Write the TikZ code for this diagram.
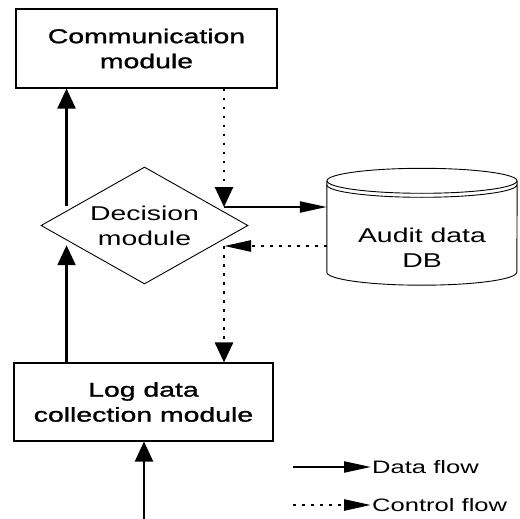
\documentclass[tikz,border=0pt]{standalone}
\usepackage{fontspec}
\setmainfont{Liberation Sans}[FakeStretch=1.42]
\newfontfamily\heavysans{Liberation Sans}[FakeStretch=1.42, FakeBold=1.3]
\usetikzlibrary{arrows.meta,shapes.geometric,calc}
\begin{document}
\begin{tikzpicture}[x=1pt,y=-1pt,
  box/.style={draw, line width=1.1pt, inner sep=0pt, font=\heavysans\fontsize{20}{25}\selectfont, align=center},
  lbl/.style={font=\fontsize{20}{25}\selectfont, align=center, inner sep=0pt},
  legendtext/.style={font=\fontsize{18}{22}\selectfont, anchor=west, inner sep=0pt},
  outline/.style={line width=0.9pt},
  dataflow/.style={line width=2.2pt},
  ctrlflow/.style={line width=2.6pt, dash pattern=on 2.6pt off 6.4pt},
  vtip/.style={-{Triangle[length=20pt,width=18pt]}},
  htip/.style={-{Triangle[length=27pt,width=11pt]}}]
\useasboundingbox (0,0) rectangle (520,519);

% modules
\node[box, minimum width=261pt, minimum height=79pt] (comm) at (146.5,48.5) {Communication\\module};
\node[box, minimum width=259pt, minimum height=78pt] (log) at (143.5,402) {Log data\\collection module};
\node[draw, outline, diamond, aspect=1.77, lbl, minimum width=207pt, minimum height=117pt] (dec) at (144.5,225.5) {Decision\\module};

% audit database cylinder
\node[minimum width=190pt, minimum height=91pt, inner sep=0pt] (db) at (422,226.5) {};
\draw[outline] (db.north west) -- (db.south west)
  arc[start angle=180, end angle=360, x radius=95pt, y radius=13pt] -- (db.north east);
\draw[outline] (db.north) ellipse[x radius=95pt, y radius=12.5pt];
\draw[outline] ([yshift=-4pt]db.north west)
  arc[start angle=180, end angle=360, x radius=95pt, y radius=12.5pt];
\node[lbl] (dbl) at (422,248) {Audit data\\DB};

% connectors
\coordinate (upA) at ($(dec.west)!0.25!(dec.north)$);
\coordinate (dnA) at ($(dec.west)!0.25!(dec.south)$);
\coordinate (j1) at (224,207);
\coordinate (j2) at (224,246);
\coordinate (inA) at (144,519);

\draw[dataflow, vtip] ([yshift=5pt]upA) -- (upA |- comm.south);
\draw[dataflow, vtip] (dnA |- log.north) -- ([yshift=-5pt]dnA);
\draw[ctrlflow, vtip] (j1 |- comm.south) -- (j1);
\draw[dataflow, htip] (j1) -- (j1 -| db.west);
\draw[ctrlflow, htip] (j2 -| db.west) -- (j2);
\draw[ctrlflow, vtip] (j2) -- (j2 |- log.north);
\draw[dataflow, vtip] (inA) -- (inA |- log.south);

% legend
\coordinate (lgA) at (293,467);
\coordinate (lgAe) at (371,467);
\coordinate (lgB) at (293,505);
\coordinate (lgBe) at (371,505);
\draw[dataflow, htip] (lgA) -- (lgAe);
\draw[ctrlflow, htip] (lgB) -- (lgBe);
\node[legendtext] (lgAt) at (372,467) {Data flow};
\node[legendtext] (lgBt) at (372,505) {Control flow};
\end{tikzpicture}
\end{document}
